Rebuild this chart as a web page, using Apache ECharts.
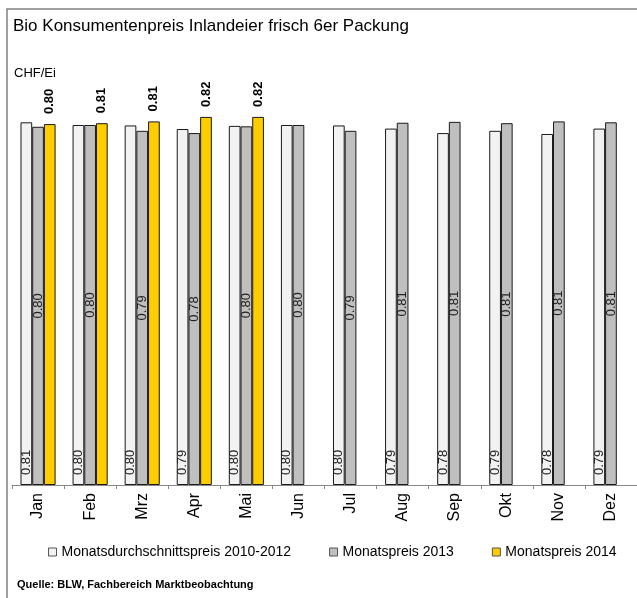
<!DOCTYPE html>
<html>
<head>
<meta charset="utf-8">
<script src="https://cdn.jsdelivr.net/npm/echarts@6/dist/echarts.min.js"></script>
<style>
  html, body { margin: 0; padding: 0; background: #fff; }
  #chart { width: 637px; height: 598px; }
</style>
</head>
<body>
<div id="chart"></div>
<script>
const months = ["Jan", "Feb", "Mrz", "Apr", "Mai", "Jun", "Jul", "Aug", "Sep", "Okt", "Nov", "Dez"];
const avg2010to2012 = [0.808, 0.802, 0.801, 0.793, 0.800, 0.802, 0.801, 0.794, 0.784, 0.789, 0.782, 0.794];
const price2013 = [0.798, 0.802, 0.789, 0.784, 0.799, 0.802, 0.789, 0.807, 0.809, 0.806, 0.810, 0.808];
const price2014 = [0.804, 0.806, 0.810, 0.820, 0.820, null, null, null, null, null, null, null];
const seriesNames = ["Monatsdurchschnittspreis 2010-2012", "Monatspreis 2013", "Monatspreis 2014"];

const FONT = "'Liberation Sans', Arial, sans-serif";
const fmt = (p) => (p.value == null ? "" : p.value.toFixed(2));

const chart = echarts.init(document.getElementById("chart"));

function barSeries(name, data, color, label) {
  return {
    name,
    type: "bar",
    data,
    barWidth: 11.7,
    barGap: "0%",
    itemStyle: { color, borderColor: "#1a1a1a", borderWidth: 1 },
    label: Object.assign({ show: true, formatter: fmt, fontFamily: FONT, rotate: 90 }, label),
  };
}

chart.setOption({
  animation: false,
  backgroundColor: "#fff",
  textStyle: { fontFamily: FONT },
  title: [
    { text: "Bio Konsumentenpreis Inlandeier frisch 6er Packung", left: 8, top: 13,
      textStyle: { fontSize: 17, fontWeight: "normal", color: "#000", fontFamily: FONT } },
    { text: "CHF/Ei", left: 9, top: 62,
      textStyle: { fontSize: 13, fontWeight: "normal", color: "#000", fontFamily: FONT } },
    { text: "Quelle: BLW, Fachbereich Marktbeobachtung", left: 12, top: 574,
      textStyle: { fontSize: 11, fontWeight: "bold", color: "#000", fontFamily: FONT } },
  ],
  graphic: [
    { type: "rect", shape: { x: 7, y: 9, width: 700, height: 700 },
      style: { fill: "none", stroke: "#808080", lineWidth: 1.5 }, silent: true },
  ],
  legend: {
    left: 43,
    top: 540,
    itemWidth: 8,
    itemHeight: 8,
    itemGap: 38,
    icon: "rect",
    itemStyle: { borderColor: "#555", borderWidth: 1 },
    textStyle: { fontSize: 14, color: "#000", fontFamily: FONT },
    data: seriesNames,
  },
  grid: { left: 12, top: 81, width: 627, height: 404, containLabel: false },
  xAxis: {
    type: "category",
    data: months,
    axisLine: { lineStyle: { color: "#888", width: 1 } },
    axisTick: { show: true, length: 4, lineStyle: { color: "#888" } },
    axisLabel: { rotate: 90, fontSize: 16, color: "#000", margin: 8, fontFamily: FONT },
  },
  yAxis: { type: "value", min: 0, max: 0.9, show: false, splitLine: { show: false } },
  series: [
    barSeries(seriesNames[0], avg2010to2012, "#f2f2f2",
      { position: "insideBottom", align: "left", verticalAlign: "middle", distance: 10, fontSize: 13, color: "#222" }),
    barSeries(seriesNames[1], price2013, "#bfbfbf",
      { position: "inside", align: "center", verticalAlign: "middle", fontSize: 13, color: "#222" }),
    barSeries(seriesNames[2], price2014, "#ffcc00",
      { position: "top", align: "left", verticalAlign: "middle", distance: 10, fontSize: 13, fontWeight: "bold", color: "#000" }),
  ],
});
</script>
</body>
</html>
